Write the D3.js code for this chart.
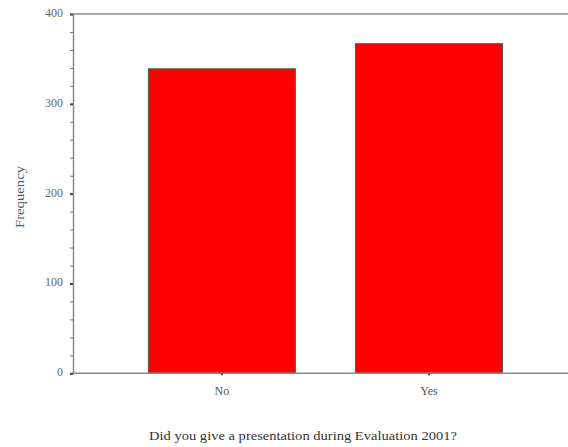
<!DOCTYPE html>
<html><head><meta charset="utf-8">
<script src="https://cdn.jsdelivr.net/npm/d3@7"></script>
<style>html,body{margin:0;padding:0;background:#fff;}svg{display:block;}</style>
</head><body>
<svg id="chart" width="568" height="447"></svg>
<script>
const categories = ["No", "Yes"];
const frequencies = [339, 367];
const yTicks = [0, 100, 200, 300, 400];
const yMinorTicks = [20,40,60,80,120,140,160,180,220,240,260,280,320,340,360,380];
const yLabel = "Frequency";
const xTitle = "Did you give a presentation during Evaluation 2001?";

const svg = d3.select("#chart");
const x0 = 73, x1 = 568, yTop = 14, yBot = 373.3;

const y = d3.scaleLinear().domain([0, 400]).range([yBot, yTop]);
const x = d3.scaleBand().domain(categories).range([x0, x1])
  .paddingInner(0.29).paddingOuter(0.34).align(0.535);

svg.append("line").attr("x1", x0).attr("x2", x1).attr("y1", yTop).attr("y2", yTop)
  .attr("stroke", "#8a8a8a").attr("stroke-width", 1.5);

svg.selectAll("rect.bar").data(categories).enter().append("rect")
  .attr("class", "bar")
  .attr("x", d => x(d))
  .attr("width", x.bandwidth())
  .attr("y", (d, i) => y(frequencies[i]))
  .attr("height", (d, i) => y(0) - y(frequencies[i]))
  .attr("fill", "#ff0000")
  .attr("stroke", "#5a5a5a").attr("stroke-width", 1);

const yAxis = d3.axisLeft(y).tickValues(yTicks).tickSize(3).tickPadding(7);
const gy = svg.append("g").attr("transform", `translate(${x0},0)`).call(yAxis);
gy.select(".domain").attr("stroke", "#8a8a8a").attr("stroke-width", 1.5);
gy.selectAll(".tick line").attr("stroke", "#444").attr("stroke-width", 2);
gy.selectAll(".tick text").attr("font-family", "'Liberation Serif', serif")
  .attr("font-size", 12).attr("fill", "#666").attr("dy", "0.2em");

const yMinor = d3.axisLeft(y).tickValues(yMinorTicks).tickSize(3).tickFormat("");
const gym = svg.append("g").attr("transform", `translate(${x0},0)`).call(yMinor);
gym.select(".domain").remove();
gym.selectAll(".tick line").attr("stroke", "#777").attr("stroke-width", 1);

const xAxis = d3.axisBottom(x).tickSize(2).tickPadding(11);
const gx = svg.append("g").attr("transform", `translate(0,${yBot})`).call(xAxis);
gx.select(".domain").attr("d", `M${x0},0H${x1}`).attr("stroke", "#8a8a8a").attr("stroke-width", 1.5);
gx.selectAll(".tick line").attr("stroke", "#444").attr("stroke-width", 2);
gx.selectAll(".tick text").attr("font-family", "'Liberation Serif', serif")
  .attr("font-size", 12).attr("fill", "#555");

svg.append("text")
  .attr("transform", "translate(24,197) rotate(-90)")
  .attr("text-anchor", "middle")
  .attr("font-family", "'Liberation Serif', serif")
  .attr("font-size", 13).attr("fill", "#555")
  .attr("textLength", 62).attr("lengthAdjust", "spacingAndGlyphs")
  .text(yLabel);

svg.append("text")
  .attr("x", 303).attr("y", 440)
  .attr("text-anchor", "middle")
  .attr("font-family", "'Liberation Serif', serif")
  .attr("font-size", 13).attr("fill", "#333")
  .attr("textLength", 308).attr("lengthAdjust", "spacingAndGlyphs")
  .text(xTitle);
</script>
</body></html>
